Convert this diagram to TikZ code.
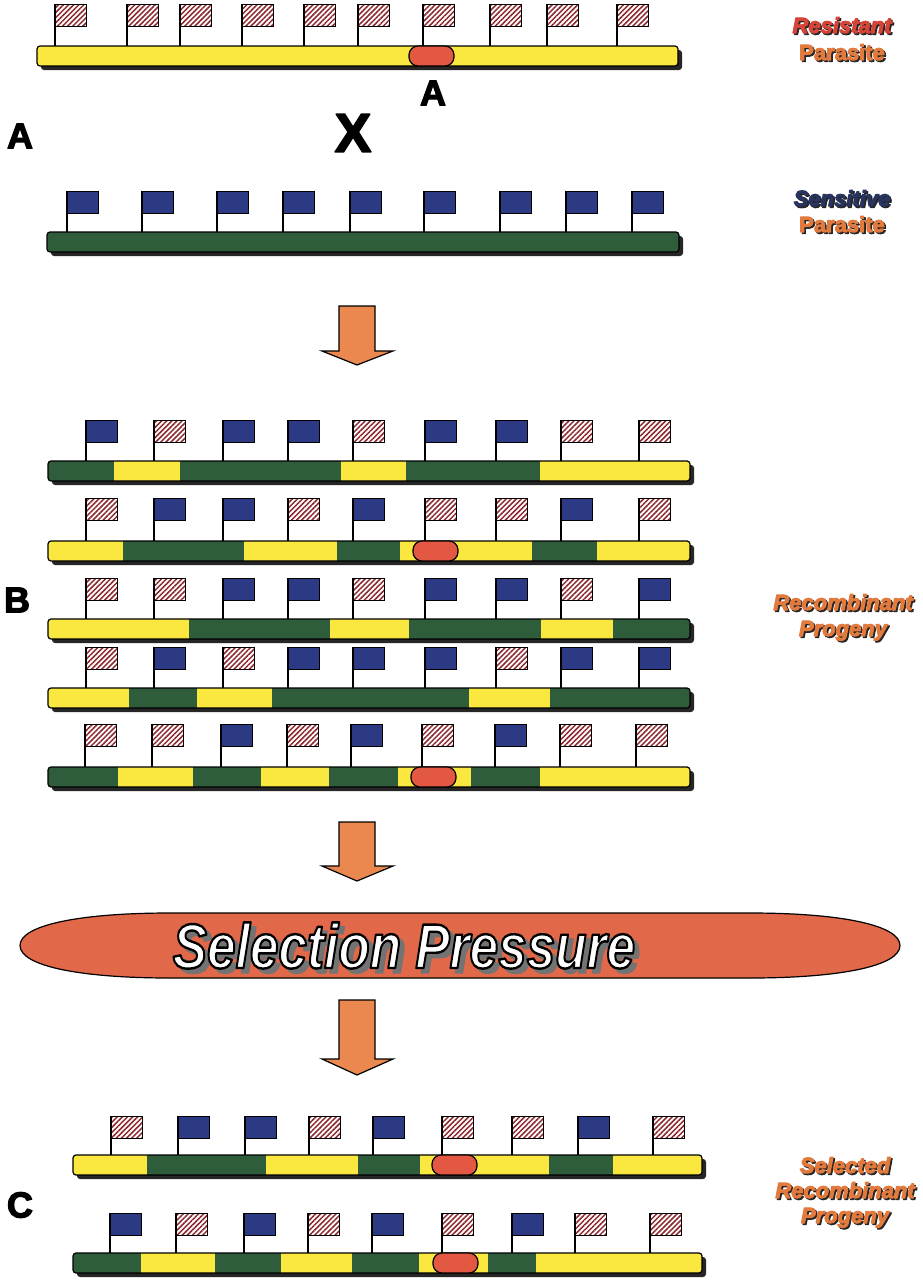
\documentclass[tikz,border=0pt]{standalone}
\usepackage{fontspec}
\setmainfont{Liberation Sans}
\usetikzlibrary{patterns.meta}

\definecolor{segY}{RGB}{250,232,64}
\definecolor{segG}{RGB}{47,92,58}
\definecolor{flagB}{RGB}{44,58,132}
\colorlet{flagH}{white}
\colorlet{hatchB}{flagB}
\definecolor{hatchH}{RGB}{140,40,45}
\definecolor{allelered}{RGB}{226,88,66}
\definecolor{arroworange}{RGB}{234,136,80}
\definecolor{selred}{RGB}{226,104,74}
\definecolor{txtorange}{RGB}{226,122,62}
\definecolor{txtred}{RGB}{214,68,56}
\definecolor{txtnavy}{RGB}{40,52,96}

% heavier glyphs: fill and stroke the text outline
\newcommand\heavytext[2]{\special{pdf:literal direct 1 j #1 w 2 Tr}#2\special{pdf:literal direct 0 Tr}}
\newcommand\outlinetext[1]{\special{pdf:literal direct 1 j 0 0 0 RG 2.4 w 2 Tr}#1\special{pdf:literal direct 0 Tr}}

\begin{document}
\begin{tikzpicture}[
  x=1pt, y=-1pt,
  bar/.style={draw, rounded corners=3pt, line width=1.2pt},
  barshadow/.style={fill=black!85, rounded corners=3pt},
  pole/.style={line width=1.2pt},
  flag/.style={draw, line width=1pt, preaction={fill=flag#1},
    pattern={Lines[angle=45,distance=3.6pt,line width=1.5pt]}, pattern color=hatch#1},
  allele/.style={draw, line width=1.2pt, fill=allelered, rounded corners=9pt},
  bigarrow/.style={draw, line width=1.2pt, fill=arroworange, line join=miter},
  selring/.style={draw, line width=1.2pt, fill=selred},
  letter/.style={font=\bfseries\fontsize{36}{36}\selectfont, inner sep=0pt},
  tag/.style={font=\bfseries\fontsize{22}{24}\selectfont, anchor=base, inner sep=0pt},
  seltext/.style={font=\bfseries\itshape\fontsize{63}{63}\selectfont, inner sep=0pt}
]
  \fill[white] (0,0) rectangle (922,1280);
  \useasboundingbox (0,0) rectangle (922,1280);

  % chromosomes: left/right/bar top/flag top/segments/flags/allele
  \foreach \bl/\br/\yb/\fy/\segs/\flags/\ox in {
    37/678/46/4/{37/678/Y}/{55/H,127/H,180/H,242/H,304/H,358/H,423/H,490/H,547/H,617/H}/409,
    47/679/232/191/{47/679/G}/{67/B,142/B,217/B,283/B,350/B,424/B,500/B,566/B,632/B}/0,
    48/690/461/420/{48/114/G,114/180/Y,180/341/G,341/406/Y,406/540/G,540/690/Y}/{86/B,154/H,223/B,288/B,353/H,425/B,496/B,561/H,639/H}/0,
    48/690/541/498/{48/123/Y,123/244/G,244/337/Y,337/400/G,400/532/Y,532/597/G,597/690/Y}/{86/H,154/B,223/B,288/H,353/B,425/H,496/H,561/B,639/H}/413,
    48/690/619/578/{48/189/Y,189/330/G,330/409/Y,409/541/G,541/613/Y,613/690/G}/{86/H,154/H,223/B,288/B,353/H,425/B,496/B,561/H,639/B}/0,
    48/690/688/647/{48/129/Y,129/197/G,197/272/Y,272/469/G,469/550/Y,550/690/G}/{86/H,154/B,223/H,288/B,353/B,425/B,496/H,561/B,639/B}/0,
    48/690/767/724/{48/118/G,118/193/Y,193/261/G,261/329/Y,329/398/G,398/471/Y,471/540/G,540/690/Y}/{85/H,152/H,221/B,287/H,351/B,422/H,495/B,560/H,636/H}/411,
    73/702/1155/1116/{73/147/Y,147/266/G,266/358/Y,358/420/G,420/549/Y,549/613/G,613/702/Y}/{111/H,178/B,245/B,309/H,373/B,442/H,512/H,578/B,653/H}/432,
    73/702/1253/1213/{73/141/G,141/215/Y,215/281/G,281/352/Y,352/419/G,419/488/Y,488/536/G,536/702/Y}/{110/B,176/H,244/B,308/H,372/B,442/H,512/B,575/H,650/H}/433%
  }{
    \fill[barshadow] (\bl+4,\yb+4) rectangle (\br+4,\yb+24);
    \begin{scope}
      \clip[rounded corners=3pt] (\bl,\yb) rectangle (\br,\yb+20);
      \foreach \sa/\sb/\sc in \segs
        \fill[fill=seg\sc] (\sa,\yb) rectangle (\sb,\yb+20);
    \end{scope}
    \draw[bar] (\bl,\yb) rectangle (\br,\yb+20);
    \ifnum\ox>0
      \draw[allele] (\ox,\yb) rectangle (\ox+45,\yb+20);
    \fi
    \foreach \px/\ft in \flags {
      \draw[pole] (\px,\fy) -- (\px,\yb);
      \path[flag=\ft] (\px,\fy) rectangle (\px+31,\fy+22);
    }
  }

  % block arrows
  \foreach \ya/\yw/\yt in {306/351/365, 822/866/881, 1000/1059/1075}
    \draw[bigarrow] (339,\ya) -- (375,\ya) -- (375,\yw) -- (393,\yw)
      -- (357,\yt) -- (322,\yw) -- (339,\yw) -- cycle;

  % selection band
  \draw[selring] (20,945.5) .. controls (20,925) and (80,913) .. (170,913)
    -- (750,913) .. controls (840,913) and (900,925) .. (900,945.5)
    .. controls (900,966) and (840,978) .. (750,978)
    -- (170,978) .. controls (80,978) and (20,966) .. (20,945.5) -- cycle;
  \node[seltext, text=black!55] (selshadow) at (409,950) {\scalebox{0.815}[1]{\heavytext{2}{Selection Pressure}}};
  \node[seltext, text=white] (selpress) at (404,945.5) {\scalebox{0.815}[1]{\outlinetext{Selection Pressure}}};

  % panel letters
  \node[letter] (lblA) at (20,136) {\heavytext{1.2}{A}};
  \node[letter] (alleleA) at (433,93) {\heavytext{1.2}{A}};
  \node[letter, font=\bfseries\fontsize{55}{55}\selectfont] (cross) at (353,133) {\heavytext{1.6}{X}};
  \node[letter] (lblB) at (17,600) {\heavytext{1.2}{B}};
  \node[letter] (lblC) at (20,1205) {\heavytext{1.2}{C}};

  % side labels
  \foreach \tx/\ty/\tcol/\txt in {
    842/33/txtred/{\itshape Resistant}, 842/60/txtorange/Parasite,
    842/206/txtnavy/{\itshape Sensitive}, 842/232/txtorange/Parasite,
    843/610/txtorange/{\itshape Recombinant}, 843/636/txtorange/{\itshape Progeny},
    845/1173/txtorange/{\itshape Selected}, 845/1198/txtorange/{\itshape Recombinant},
    845/1223/txtorange/{\itshape Progeny}%
  }{
    \node[tag, text=black!85] (tagsh\ty) at (\tx+1.6,\ty+1.6) {\heavytext{1}{\txt}};
    \node[tag, text=\tcol] (tag\ty) at (\tx,\ty) {\heavytext{1}{\txt}};
  }
\end{tikzpicture}
\end{document}
